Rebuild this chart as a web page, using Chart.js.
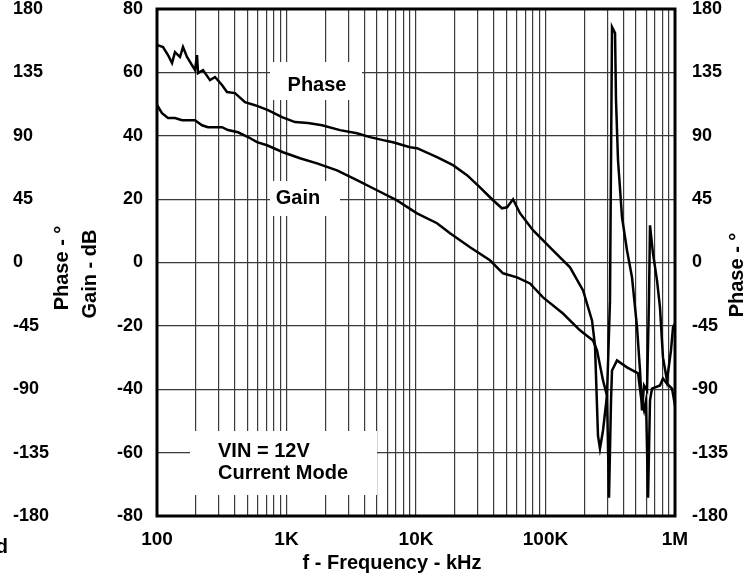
<!DOCTYPE html>
<html>
<head>
<meta charset="utf-8">
<script src="https://cdn.jsdelivr.net/npm/chart.js@4.4.1/dist/chart.umd.min.js"></script>
<style>
  html, body { margin: 0; padding: 0; background: #fff; }
  #wrap { width: 750px; height: 581px; }
</style>
</head>
<body>
<div id="wrap"><canvas id="bode" width="750" height="581"></canvas></div>
<script>
// gain curve (dB) vs frequency
const gainFreq = [100, 109.3, 121.6, 137.7, 156, 173.5, 196.5, 222.6, 247.6, 317.6, 353.4, 422.3, 504.4, 591.9, 707.1,
  939.7, 1271, 1720, 2455, 3499, 4995, 7129, 10180, 14530, 18320, 26130, 37240, 46980, 60260, 75890, 95690,
  136500, 184600, 232700, 249900, 278000, 298500, 309300, 320600, 326300, 356600, 425800, 518400, 547100,
  576700, 597200, 619300, 641200, 664400, 765600, 807300, 866900, 948300, 1000000];
const gainDb = [49.7, 47.1, 45.6, 45.6, 44.9, 44.9, 44.9, 43.3, 42.7, 42.7, 41.8, 41.1, 39.6, 38.0, 37.0,
  34.8, 32.9, 31.3, 29.1, 26.0, 22.8, 19.6, 15.5, 12.4, 9.2, 4.8, 0.7, -3.4, -4.7, -6.6, -11.0,
  -16.1, -21.4, -24.6, -27.7, -37.2, -42.0, -74.2, -43.5, -34.1, -30.9, -33.1, -35.0, -42.6,
  -46.7, -43.5, -74.2, -43.5, -39.8, -38.8, -36.6, -38.2, -39.8, -45.1];

// phase curve (deg) vs frequency
const phaseFreq = [100, 111.3, 121.6, 130.6, 137.7, 150.5, 158.8, 170.5, 186.3, 196.5, 203.7, 207.4, 226.6, 256.6,
  280.5, 317.6, 347.1, 400.3, 478.2, 571.2, 719.6, 923.4, 1163, 1466, 1880, 2588, 3499, 4413, 5559, 6640,
  8987, 10180, 14530, 19300, 24770, 31200, 39340, 46140, 50470, 56130, 63550, 80050, 108300, 154600,
  195000, 228600, 241100, 254300, 263400, 278000, 298500, 314800, 326300, 344400, 350300, 363000, 389900,
  425800, 465500, 509200, 537000, 556000, 576700, 608100, 629500, 641200, 676100, 726100, 765600, 807300,
  866900, 930900, 965300, 1000000];
const phaseDeg = [154.4, 153.0, 147.3, 141.6, 149.4, 145.9, 153.0, 145.9, 140.2, 136.6, 147.3, 134.5, 136.6, 129.5,
  131.7, 126.0, 121.0, 120.3, 113.9, 111.7, 108.2, 103.2, 99.7, 99.0, 97.5, 94.0, 91.8, 89.0, 86.9, 85.4,
  81.9, 81.2, 74.8, 69.1, 62.0, 53.4, 44.2, 38.5, 39.2, 44.9, 35.0, 22.9, 10.8, -3.4,
  -19.8, -41.1, -58.9, -122.9, -132.1, -119.3, -94.4, -26.9, 167.2, 162.9, 115.3, 72.6, 32.1,
  8.7, -10.5, -46.1, -76.7, -105.1, -87.3, -90.9, -26.9, 26.4, 6.5, -12.7, -31.9, -67.4,
  -83.8, -62.4, -46.1, -43.3];

const xDecades = [100, 1000, 10000, 100000, 1000000];
const xDecadeLabels = ['100', '1K', '10K', '100K', '1M'];

const tickFont = { family: "'Liberation Sans', Arial, sans-serif", size: 18, weight: 'bold' };
const gridColor = '#3a3a3a';

// keep the plot edges where the picture has them
const noEndPadding = (scale, w) => {
  scale.width = w;
  scale.paddingTop = 0;
  scale.paddingBottom = 0;
};

// white label boxes drawn over the grid, then the frame and titles
const decor = {
  id: 'decor',
  beforeDatasetsDraw(chart) {
    const ctx = chart.ctx;
    ctx.save();
    ctx.fillStyle = '#fff';
    ctx.fillRect(270, 62, 92, 38);
    ctx.fillRect(270, 181, 70, 35);
    ctx.fillRect(190, 431, 187, 64);
    ctx.fillStyle = '#000';
    ctx.font = "bold 20px 'Liberation Sans', Arial, sans-serif";
    ctx.textBaseline = 'middle';
    ctx.textAlign = 'center';
    ctx.fillText('Phase', 317, 85);
    ctx.fillText('Gain', 298, 198);
    ctx.textAlign = 'left';
    ctx.fillText('VIN = 12V', 218, 451);
    ctx.fillText('Current Mode', 218, 473);
    ctx.restore();
  },
  afterDraw(chart) {
    const ctx = chart.ctx;
    const a = chart.chartArea;
    ctx.save();
    ctx.strokeStyle = '#000';
    ctx.lineWidth = 3;
    ctx.strokeRect(a.left, a.top, a.right - a.left, a.bottom - a.top);

    ctx.fillStyle = '#000';
    ctx.font = "bold 20px 'Liberation Sans', Arial, sans-serif";
    ctx.textBaseline = 'middle';
    ctx.textAlign = 'center';
    ctx.fillText('f - Frequency - kHz', 392, 563);

    const vtext = (t, x, y) => {
      ctx.save();
      ctx.translate(x, y);
      ctx.rotate(-Math.PI / 2);
      ctx.fillText(t, 0, 0);
      ctx.restore();
    };
    vtext('Phase - \u00b0', 62, 268);
    vtext('Gain - dB', 90, 274);
    vtext('Phase - \u00b0', 737, 275);

    ctx.textAlign = 'right';
    ctx.fillText('d', 8, 547);
    ctx.restore();
  }
};

new Chart(document.getElementById('bode'), {
  type: 'line',
  data: {
    datasets: [
      {
        label: 'Phase',
        data: phaseFreq.map((f, i) => ({ x: f, y: phaseDeg[i] })),
        yAxisID: 'yPhaseL',
        borderColor: '#000',
        borderWidth: 2.5,
        pointRadius: 0,
        tension: 0,
        fill: false
      },
      {
        label: 'Gain',
        data: gainFreq.map((f, i) => ({ x: f, y: gainDb[i] })),
        yAxisID: 'yGain',
        borderColor: '#000',
        borderWidth: 2.5,
        pointRadius: 0,
        tension: 0,
        fill: false
      }
    ]
  },
  options: {
    responsive: false,
    animation: false,
    layout: { padding: { left: 13, top: 9, right: 0, bottom: 0 } },
    plugins: { legend: { display: false }, tooltip: { enabled: false } },
    scales: {
      x: {
        type: 'logarithmic',
        min: 100,
        max: 1000000,
        afterBuildTicks(scale) {
          const ticks = [];
          xDecades.forEach((d, i) => {
            if (i === xDecades.length - 1) { ticks.push({ value: d }); return; }
            for (let m = 1; m <= 9; m++) ticks.push({ value: d * m });
          });
          scale.ticks = ticks;
        },
        afterFit(scale) {
          scale.height = 65;
          scale.paddingLeft = 0;
          scale.paddingRight = 0;
        },
        ticks: {
          autoSkip: false,
          maxRotation: 0,
          padding: 12,
          color: '#000',
          font: { ...tickFont, size: 19 },
          callback(v) {
            const i = xDecades.indexOf(v);
            return i >= 0 ? xDecadeLabels[i] : '';
          }
        },
        grid: { color: gridColor, lineWidth: 1.2, drawTicks: false },
        border: { display: false }
      },
      yGain: {
        position: 'left',
        weight: 0,
        min: -80,
        max: 80,
        afterFit(scale) { noEndPadding(scale, 97); },
        ticks: { stepSize: 20, padding: 14, color: '#000', font: tickFont },
        grid: { color: gridColor, lineWidth: 1.2, drawTicks: false },
        border: { display: false }
      },
      yPhaseL: {
        position: 'left',
        weight: 1,
        min: -180,
        max: 180,
        afterFit(scale) { noEndPadding(scale, 47); },
        ticks: { stepSize: 45, crossAlign: 'far', color: '#000', font: tickFont },
        grid: { display: false, drawTicks: false },
        border: { display: false }
      },
      yPhaseR: {
        position: 'right',
        min: -180,
        max: 180,
        afterFit(scale) { noEndPadding(scale, 75); },
        ticks: { stepSize: 45, padding: 17, color: '#000', font: tickFont },
        grid: { display: false, drawTicks: false },
        border: { display: false }
      }
    }
  },
  plugins: [decor]
});
</script>
</body>
</html>
